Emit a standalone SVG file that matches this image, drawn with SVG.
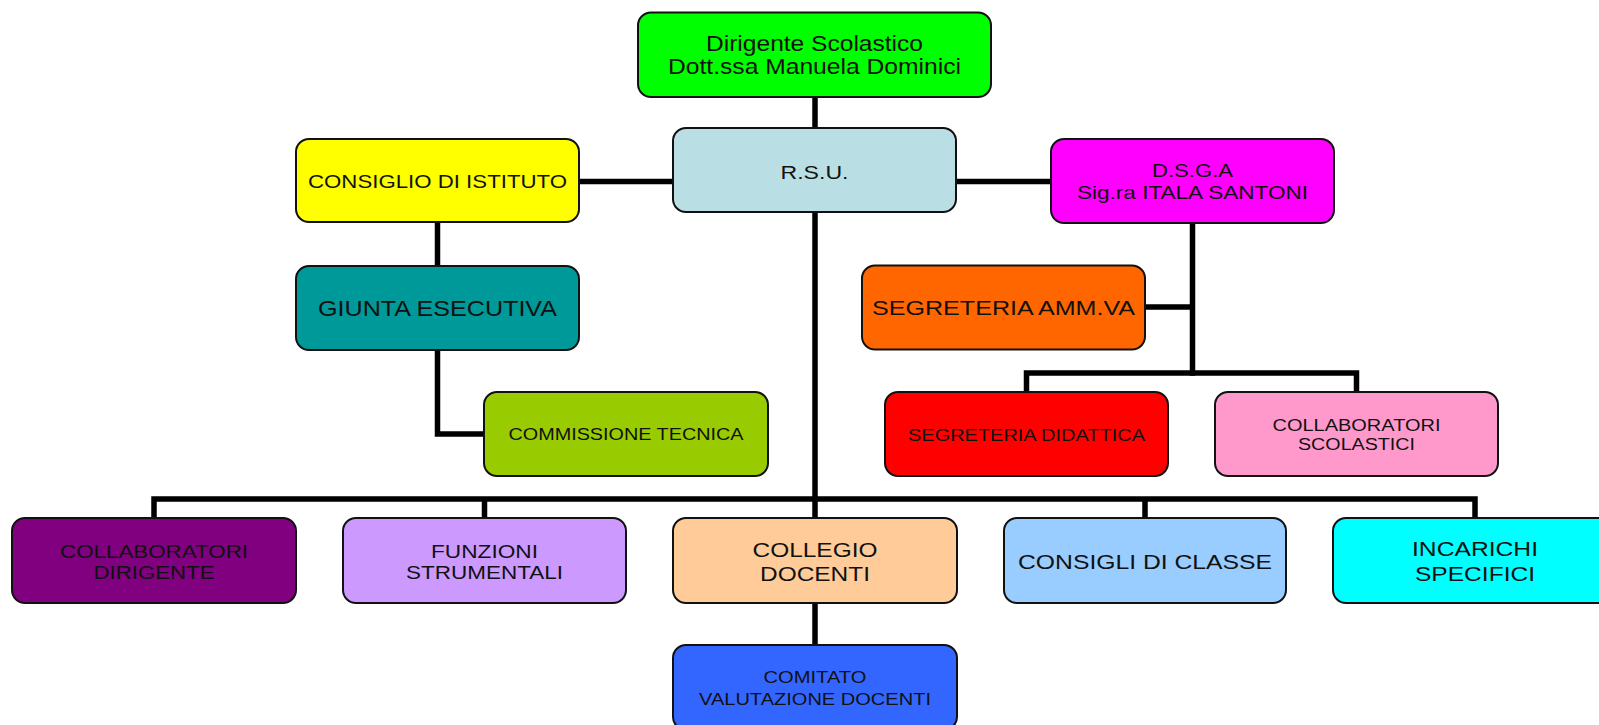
<svg xmlns="http://www.w3.org/2000/svg" width="1599" height="725" viewBox="0 0 1599 725">
<style>
.box{stroke:#111;stroke-width:2}
.t{font-family:"Liberation Sans",Arial,sans-serif;fill:#111;text-anchor:middle}
.c{stroke:#000;stroke-width:5.5;fill:none;stroke-linecap:square}
</style>
<rect width="1599" height="725" fill="#fff"/>
<g id="connectors">
<path class="c" d="M815,97 V128"/>
<path class="c" d="M579,181.5 H673 M956,181.5 H1051"/>
<path class="c" d="M815,212 V518"/>
<path class="c" d="M154,518 V499 H1475 V518 M484.5,499 V518 M1145,499 V518"/>
<path class="c" d="M437.5,222 V266"/>
<path class="c" d="M437.5,350 V434 H484"/>
<path class="c" d="M1192.5,223 V373 M1145,307 H1192.5"/>
<path class="c" d="M1026.5,392 V373 H1356.5 V392"/>
<path class="c" d="M815,603 V645"/>
</g>
<g id="dirigente"><rect class="box" x="638" y="12.5" width="353" height="84.5" rx="13" fill="#00FF00"/>
<text class="t" x="814.5" y="50.7" font-size="22" textLength="217" lengthAdjust="spacingAndGlyphs">Dirigente Scolastico</text>
<text class="t" x="814.5" y="74" font-size="22" textLength="293" lengthAdjust="spacingAndGlyphs">Dott.ssa Manuela Dominici</text></g>
<g id="rsu"><rect class="box" x="673" y="128" width="283" height="84" rx="13" fill="#B9DFE4"/>
<text class="t" x="814.5" y="179" font-size="18.6" textLength="68" lengthAdjust="spacingAndGlyphs">R.S.U.</text></g>
<g id="consiglio-istituto"><rect class="box" x="296" y="139" width="283" height="83" rx="13" fill="#FFFF00"/>
<text class="t" x="437.5" y="188.3" font-size="18.6" textLength="259" lengthAdjust="spacingAndGlyphs">CONSIGLIO DI ISTITUTO</text></g>
<g id="dsga"><rect class="box" x="1051" y="139" width="283" height="84" rx="13" fill="#FF00FF"/>
<text class="t" x="1192.5" y="177.3" font-size="18.2" textLength="81" lengthAdjust="spacingAndGlyphs">D.S.G.A</text>
<text class="t" x="1192.5" y="199" font-size="18.2" textLength="231" lengthAdjust="spacingAndGlyphs">Sig.ra ITALA SANTONI</text></g>
<g id="giunta"><rect class="box" x="296" y="266" width="283" height="84" rx="13" fill="#009999"/>
<text class="t" x="437.5" y="316" font-size="21.4" textLength="239" lengthAdjust="spacingAndGlyphs">GIUNTA ESECUTIVA</text></g>
<g id="segreteria-amm"><rect class="box" x="862" y="265.5" width="283" height="84" rx="13" fill="#FF6600"/>
<text class="t" x="1003.5" y="315" font-size="21" textLength="263" lengthAdjust="spacingAndGlyphs">SEGRETERIA AMM.VA</text></g>
<g id="commissione"><rect class="box" x="484" y="392" width="284" height="84" rx="13" fill="#99CC00"/>
<text class="t" x="626" y="440" font-size="16.3" textLength="235" lengthAdjust="spacingAndGlyphs">COMMISSIONE TECNICA</text></g>
<g id="segreteria-did"><rect class="box" x="885" y="392" width="283" height="84" rx="13" fill="#FF0000"/>
<text class="t" x="1026.5" y="440.7" font-size="17" textLength="237" lengthAdjust="spacingAndGlyphs">SEGRETERIA DIDATTICA</text></g>
<g id="collab-scol"><rect class="box" x="1215" y="392" width="283" height="84" rx="13" fill="#FF99CC"/>
<text class="t" x="1356.5" y="430.7" font-size="17.2" textLength="168" lengthAdjust="spacingAndGlyphs">COLLABORATORI</text>
<text class="t" x="1356.5" y="450" font-size="17.2" textLength="117" lengthAdjust="spacingAndGlyphs">SCOLASTICI</text></g>
<g id="collab-dir"><rect class="box" x="12" y="518" width="284" height="85" rx="13" fill="#800080"/>
<text class="t" x="154" y="558" font-size="19" textLength="188" lengthAdjust="spacingAndGlyphs">COLLABORATORI</text>
<text class="t" x="154" y="579" font-size="19" textLength="121" lengthAdjust="spacingAndGlyphs">DIRIGENTE</text></g>
<g id="funzioni"><rect class="box" x="343" y="518" width="283" height="85" rx="13" fill="#CC99FF"/>
<text class="t" x="484.5" y="558" font-size="19" textLength="107" lengthAdjust="spacingAndGlyphs">FUNZIONI</text>
<text class="t" x="484.5" y="579" font-size="19" textLength="157" lengthAdjust="spacingAndGlyphs">STRUMENTALI</text></g>
<g id="collegio"><rect class="box" x="673" y="518" width="284" height="85" rx="13" fill="#FFCC99"/>
<text class="t" x="815" y="557" font-size="20" textLength="125" lengthAdjust="spacingAndGlyphs">COLLEGIO</text>
<text class="t" x="815" y="581" font-size="20" textLength="110" lengthAdjust="spacingAndGlyphs">DOCENTI</text></g>
<g id="consigli-classe"><rect class="box" x="1004" y="518" width="282" height="85" rx="13" fill="#99CCFF"/>
<text class="t" x="1145" y="569" font-size="20" textLength="254" lengthAdjust="spacingAndGlyphs">CONSIGLI DI CLASSE</text></g>
<g id="incarichi"><rect class="box" x="1333" y="518" width="284" height="85" rx="13" fill="#00FFFF"/>
<text class="t" x="1475" y="556" font-size="20" textLength="126" lengthAdjust="spacingAndGlyphs">INCARICHI</text>
<text class="t" x="1475" y="581" font-size="20" textLength="120" lengthAdjust="spacingAndGlyphs">SPECIFICI</text></g>
<g id="comitato"><rect class="box" x="673" y="645" width="284" height="85" rx="13" fill="#3366FF"/>
<text class="t" x="815" y="683" font-size="16" textLength="103" lengthAdjust="spacingAndGlyphs">COMITATO</text>
<text class="t" x="815" y="705" font-size="16" textLength="232" lengthAdjust="spacingAndGlyphs">VALUTAZIONE DOCENTI</text></g>
</svg>
